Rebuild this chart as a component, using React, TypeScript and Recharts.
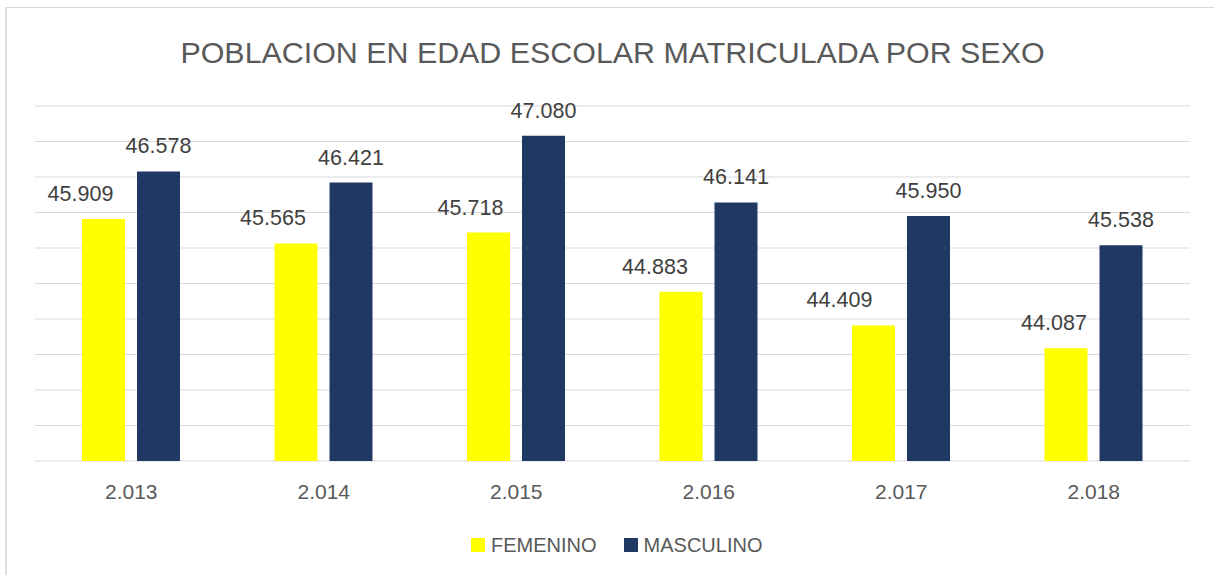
import { BarChart, Bar, XAxis, YAxis, CartesianGrid, Legend, LabelList } from "recharts";

const years = ["2.013", "2.014", "2.015", "2.016", "2.017", "2.018"];
const femenino = [45909, 45565, 45718, 44883, 44409, 44087];
const masculino = [46578, 46421, 47080, 46141, 45950, 45538];
const yTicks = [42500, 43000, 43500, 44000, 44500, 45000, 45500, 46000, 46500, 47000, 47500];

// the yellow labels were dragged by hand in the original, keep their nudge
const femLabelShift = [-23, -23, -18, -26, -34, -12];

const FONT = "'Liberation Sans', Arial, sans-serif";
const YELLOW = "#FFFF00";
const NAVY = "#1F3864";

const fmt = (v: number) => `${Math.floor(v / 1000)}.${String(v % 1000).padStart(3, "0")}`;

const data = years.map((year, i) => ({
  year,
  FEMENINO: femenino[i],
  MASCULINO: masculino[i],
}));

function FemLabel(props: any) {
  const { x, y, width, value, index } = props;
  return (
    <text
      x={Number(x) + Number(width) / 2 + (femLabelShift[index] ?? 0)}
      y={Number(y) - 18}
      textAnchor="middle"
      fill="#404040"
      fontSize={21.5}
      fontFamily={FONT}
    >
      {fmt(Number(value))}
    </text>
  );
}

function MascLabel(props: any) {
  const { x, y, width, value } = props;
  return (
    <text
      x={Number(x) + Number(width) / 2}
      y={Number(y) - 18}
      textAnchor="middle"
      fill="#404040"
      fontSize={21.5}
      fontFamily={FONT}
    >
      {fmt(Number(value))}
    </text>
  );
}

function LegendBox() {
  const items = [
    { name: "FEMENINO", color: YELLOW },
    { name: "MASCULINO", color: NAVY },
  ];
  return (
    <div style={{ display: "flex", alignItems: "center", height: 30, gap: 27 }}>
      {items.map((it) => (
        <div key={it.name} style={{ display: "flex", alignItems: "center", gap: 6 }}>
          <div style={{ width: 14, height: 14, background: it.color }} />
          <span style={{ fontFamily: FONT, fontSize: 20, lineHeight: "20px", color: "#595959" }}>
            {it.name}
          </span>
        </div>
      ))}
    </div>
  );
}

export default function App() {
  return (
    <div
      style={{
        position: "absolute",
        left: 0,
        top: 0,
        width: 1214,
        height: 575,
        background: "#fff",
        overflow: "hidden",
      }}
    >
      <div
        style={{
          position: "absolute",
          left: 5,
          top: 7,
          width: 1230,
          height: 600,
          borderTop: "1px solid #d9d9d9",
          borderLeft: "2px solid #dedede",
        }}
      />
      <div
        style={{
          position: "absolute",
          left: 0,
          top: 37,
          width: 1225,
          textAlign: "center",
          fontFamily: FONT,
          fontSize: 30.4,
          lineHeight: "30px",
          color: "#595959",
        }}
      >
        POBLACION EN EDAD ESCOLAR MATRICULADA POR SEXO
      </div>
      <div style={{ position: "absolute", left: 0, top: 0 }}>
        <BarChart
          width={1214}
          height={575}
          data={data}
          margin={{ top: 106, right: 24, left: 35, bottom: 44 }}
          barSize={43}
          barGap={12}
        >
          <CartesianGrid vertical={false} stroke="#d9d9d9" strokeWidth={1} />
          <YAxis
            hide
            width={0}
            domain={[42500, 47500]}
            ticks={yTicks}
            allowDataOverflow
          />
          <XAxis
            dataKey="year"
            height={40}
            axisLine={false}
            tickLine={false}
            tickSize={0}
            tickMargin={23}
            tick={{ fill: "#595959", fontSize: 21, fontFamily: FONT }}
            interval={0}
          />
          <Legend
            content={() => <LegendBox />}
            wrapperStyle={{ left: 471, top: 530, width: "auto" }}
          />
          <Bar dataKey="FEMENINO" fill={YELLOW} isAnimationActive={false}>
            <LabelList dataKey="FEMENINO" content={FemLabel} />
          </Bar>
          <Bar dataKey="MASCULINO" fill={NAVY} isAnimationActive={false}>
            <LabelList dataKey="MASCULINO" content={MascLabel} />
          </Bar>
        </BarChart>
      </div>
    </div>
  );
}
